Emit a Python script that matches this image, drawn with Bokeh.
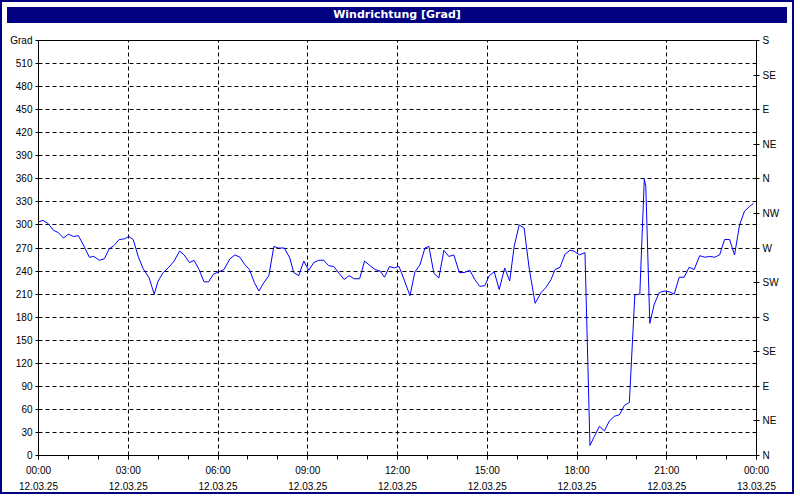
import pandas as pd
from bokeh.plotting import figure
from bokeh.models import (Range1d, LinearAxis, DatetimeAxis, FixedTicker,
                          DatetimeTickFormatter, Div)
from bokeh.layouts import column
from bokeh.embed import file_html
from bokeh.resources import INLINE

# ---- data: minutes after 12.03.25 00:00 and wind direction in degrees ----
minutes = [0, 9, 19, 30, 40, 50, 60, 70, 80, 90,
           102, 111, 122, 132, 142, 151, 162, 173, 181, 190,
           200, 210, 222, 232, 240, 250, 260, 272, 283, 292,
           303, 312, 322, 332, 341, 351, 362, 372, 384, 394,
           404, 413, 423, 433, 442, 452, 462, 472, 481, 493,
           504, 512, 522, 532, 542, 552, 562, 572, 582, 592,
           603, 613, 623, 633, 644, 654, 665, 675, 685, 694,
           704, 713, 723, 732, 745, 755, 765, 775, 783, 793,
           803, 813, 823, 833, 844, 854, 865, 875, 885, 895,
           904, 914, 924, 935, 945, 954, 964, 974, 984, 996,
           1008, 1018, 1028, 1036, 1046, 1056, 1066, 1074, 1085, 1096,
           1106, 1115, 1125, 1135, 1145, 1155, 1165, 1175, 1185, 1196,
           1206, 1215, 1218, 1226, 1235, 1245, 1255, 1265, 1275, 1285,
           1295, 1305, 1315, 1326, 1336, 1346, 1356, 1366, 1376, 1386,
           1396, 1406, 1416, 1426, 1434]
direction = [304, 306, 302, 293, 290, 283, 288, 285, 286, 274,
             258, 259, 254, 256, 269, 273, 281, 282, 285, 281,
             259, 243, 231, 210, 227, 238, 244, 253, 266, 261,
             251, 254, 242, 226, 226, 236, 239, 242, 256, 261,
             258, 249, 242, 225, 214, 225, 234, 272, 270, 270,
             257, 238, 234, 253, 241, 251, 254, 254, 247, 246,
             237, 229, 234, 230, 230, 253, 247, 242, 240, 232,
             246, 244, 246, 231, 208, 239, 248, 270, 272, 237,
             231, 267, 259, 261, 238, 238, 241, 229, 220, 221,
             234, 239, 216, 244, 227, 272, 300, 296, 244, 198,
             212, 219, 229, 242, 245, 262, 267, 266, 261, 264,
             13, 25, 38, 32, 45, 51, 53, 65, 69, 209,
             210, 360, 350, 172, 197, 212, 214, 213, 210, 232,
             232, 245, 242, 260, 258, 259, 258, 261, 281, 281,
             261, 300, 318, 324, 328]

left_ticks = list(range(0, 541, 30))
left_labels = {540: "Grad"}
right_ticks = list(range(0, 541, 45))
right_names = ["N", "NE", "E", "SE", "S", "SW", "W", "NW",
               "N", "NE", "E", "SE", "S"]
hour_ticks = list(range(0, 25, 3))
title_text = "Windrichtung [Grad]"

base = pd.Timestamp("2025-03-12 00:00")
times = [base + pd.Timedelta(minutes=m) for m in minutes]


def ms(h):
    return (base + pd.Timedelta(hours=h)).value / 1e6


FONT = "Liberation Sans"
FS = "10px"

p = figure(width=780, height=464, x_axis_type="datetime",
           x_range=Range1d(ms(0), ms(24)), y_range=Range1d(0, 540),
           output_backend="svg", toolbar_location=None,
           min_border_left=36, min_border_right=24,
           min_border_top=12, min_border_bottom=34)
p.background_fill_color = "white"
p.border_fill_color = "white"
p.outline_line_color = "black"
p.outline_line_alpha = 1.0

xticker = FixedTicker(ticks=[ms(h) for h in hour_ticks],
                      minor_ticks=[ms(h) for h in range(25)])

fmt_fields = ["microseconds", "milliseconds", "seconds", "minsec", "minutes",
              "hourmin", "hours", "days", "months", "years"]
time_fmt = DatetimeTickFormatter(**{f: "%H:%M" for f in fmt_fields})
date_fmt = DatetimeTickFormatter(**{f: "%d.%m.%y" for f in fmt_fields})

xa = p.xaxis[0]
xa.ticker = xticker
xa.formatter = time_fmt
xa.axis_line_color = "black"
xa.major_tick_in = 0
xa.major_tick_out = 4
xa.minor_tick_in = 0
xa.minor_tick_out = 4
xa.major_tick_line_color = "black"
xa.minor_tick_line_color = "black"
xa.major_label_standoff = 5
xa.major_label_text_font = FONT
xa.major_label_text_font_size = FS
xa.major_label_text_color = "black"

xa2 = DatetimeAxis(ticker=xticker, formatter=date_fmt,
                   axis_line_color=None, major_tick_line_color=None,
                   minor_tick_line_color=None, major_tick_in=0,
                   major_tick_out=0, minor_tick_in=0, minor_tick_out=0,
                   major_label_standoff=3,
                   major_label_text_font=FONT, major_label_text_font_size=FS,
                   major_label_text_color="black")
p.add_layout(xa2, "below")

ya = p.yaxis[0]
ya.ticker = FixedTicker(ticks=left_ticks)
ya.major_label_overrides = left_labels
ya.axis_line_color = "black"
ya.major_tick_in = 0
ya.major_tick_out = 3
ya.minor_tick_line_color = None
ya.major_tick_line_color = "black"
ya.major_label_standoff = 3
ya.major_label_text_font = FONT
ya.major_label_text_font_size = FS
ya.major_label_text_color = "black"

ra = LinearAxis(ticker=FixedTicker(ticks=right_ticks),
                major_label_overrides={t: n for t, n in zip(right_ticks, right_names)},
                axis_line_color="black", major_tick_in=3, major_tick_out=3,
                major_tick_line_color="black", minor_tick_line_color=None,
                major_label_standoff=3, major_label_text_font=FONT,
                major_label_text_font_size=FS, major_label_text_color="black")
p.add_layout(ra, "right")

p.xgrid.ticker = xticker
p.ygrid.ticker = FixedTicker(ticks=left_ticks[:-1])
for g in (p.xgrid, p.ygrid):
    g.grid_line_color = "black"
    g.grid_line_dash = "4 3"
    g.grid_line_width = 1
    g.grid_line_alpha = 1.0

p.line(times, direction, line_color="#0000FF", line_width=1)

title = Div(text=title_text, width=780, height=16,
            styles={"background-color": "#000080", "color": "white",
                    "font-family": "DejaVu Sans", "font-weight": "bold",
                    "font-size": "11px", "text-align": "center",
                    "line-height": "16px"})

layout = column(title, p, styles={"border": "2px solid #000080",
                                  "background-color": "white"})

open("out.html", "w").write(file_html(layout, INLINE))
